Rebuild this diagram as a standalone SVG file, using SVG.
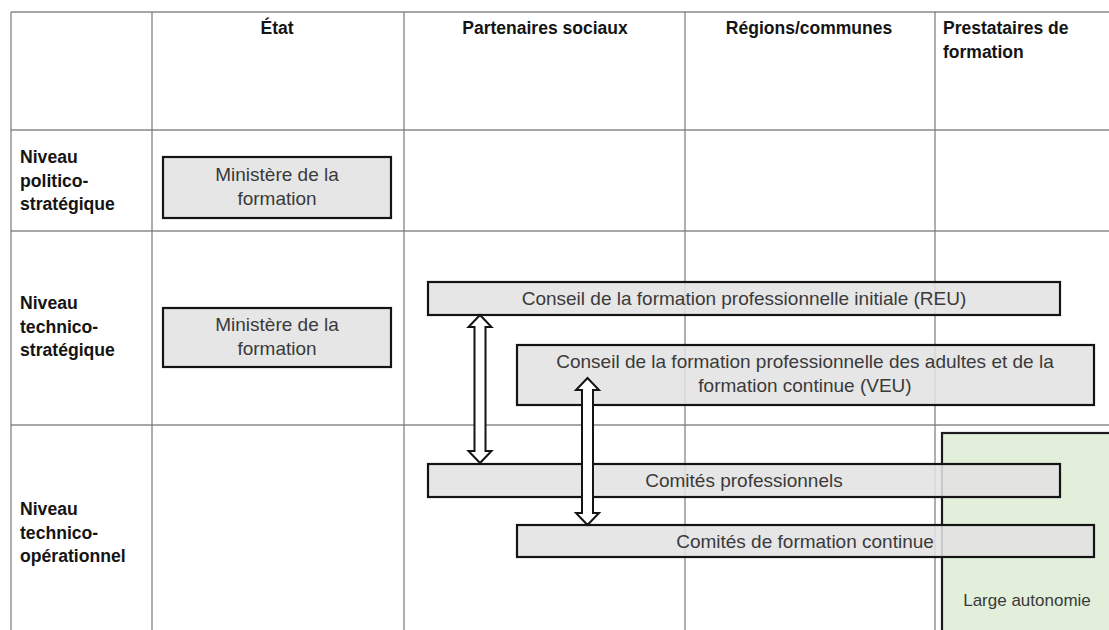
<svg xmlns="http://www.w3.org/2000/svg" width="1109" height="630" viewBox="0 0 1109 630">
  <defs>
    <style>
      .grid-h { stroke: #8a8a8a; stroke-width: 1.6; fill: none; }
      .grid-v { stroke: #7a7a7a; stroke-width: 1.2; fill: none; }
      .box { fill: #e3e3e3; fill-opacity: 0.88; stroke: #141414; stroke-width: 2.2; }
      .green { fill: #e2efda; stroke: #1c1c1c; stroke-width: 2.2; }
      .head { font-family: "Liberation Sans", Arial, sans-serif; font-weight: bold; font-size: 17.5px; fill: #141414; }
      .label { font-family: "Liberation Sans", Arial, sans-serif; font-weight: bold; font-size: 17.6px; fill: #141414; }
      .txt { font-family: "Liberation Sans", Arial, sans-serif; font-size: 19px; fill: #3a3a3a; text-anchor: middle; }
      .small { font-family: "Liberation Sans", Arial, sans-serif; font-size: 17px; fill: #3a3a3a; text-anchor: middle; }
      .arrow { fill: #ffffff; stroke: #141414; stroke-width: 2; stroke-linejoin: miter; }
    </style>
  </defs>

  <rect width="1109" height="630" fill="#ffffff"/>

  <!-- table grid -->
  <g id="grid">
    <line class="grid-h" x1="11" y1="12" x2="1109" y2="12"/>
    <line class="grid-h" x1="11" y1="130" x2="1109" y2="130"/>
    <line class="grid-h" x1="11" y1="231" x2="1109" y2="231"/>
    <line class="grid-h" x1="11" y1="425" x2="1109" y2="425"/>
    <line class="grid-v" x1="11" y1="12" x2="11" y2="630" stroke="#a8a8a8"/>
    <line class="grid-v" x1="152" y1="12" x2="152" y2="630"/>
    <line class="grid-v" x1="404" y1="12" x2="404" y2="630"/>
    <line class="grid-v" x1="685" y1="12" x2="685" y2="630"/>
    <line class="grid-v" x1="935" y1="12" x2="935" y2="630"/>
  </g>

  <!-- column headings -->
  <g id="headers">
    <text class="head" x="277" y="34" text-anchor="middle">État</text>
    <text class="head" x="545" y="34" text-anchor="middle">Partenaires sociaux</text>
    <text class="head" x="809" y="34" text-anchor="middle">Régions/communes</text>
    <text class="head" x="943" y="34">Prestataires de</text>
    <text class="head" x="943" y="58">formation</text>
  </g>

  <!-- row headings -->
  <g id="rows">
    <text class="label" x="20" y="163">Niveau</text>
    <text class="label" x="20" y="186.5">politico-</text>
    <text class="label" x="20" y="210">stratégique</text>
    <text class="label" x="20" y="309">Niveau</text>
    <text class="label" x="20" y="332.5">technico-</text>
    <text class="label" x="20" y="356">stratégique</text>
    <text class="label" x="20" y="515">Niveau</text>
    <text class="label" x="20" y="538.5">technico-</text>
    <text class="label" x="20" y="562">opérationnel</text>
  </g>

  <!-- nodes -->
  <g id="large-autonomie">
    <rect class="green" x="942" y="433" width="180" height="210"/>
    <text class="small" x="1027" y="606">Large autonomie</text>
  </g>

  <g id="ministere-politique">
    <rect class="box" x="163" y="157" width="228" height="61"/>
    <text class="txt" x="277" y="181">Ministère de la</text>
    <text class="txt" x="277" y="205">formation</text>
  </g>

  <g id="ministere-technique">
    <rect class="box" x="163" y="308" width="228" height="59"/>
    <text class="txt" x="277" y="331">Ministère de la</text>
    <text class="txt" x="277" y="355">formation</text>
  </g>

  <g id="conseil-reu">
    <rect class="box" x="428" y="282" width="632" height="33"/>
    <text class="txt" x="744" y="305">Conseil de la formation professionnelle initiale (REU)</text>
  </g>

  <g id="conseil-veu">
    <rect class="box" x="517" y="345" width="577" height="60"/>
    <text class="txt" x="805" y="368">Conseil de la formation professionnelle des adultes et de la</text>
    <text class="txt" x="805" y="392">formation continue (VEU)</text>
  </g>

  <g id="comites-professionnels">
    <rect class="box" x="428" y="464" width="632" height="33"/>
    <text class="txt" x="744" y="487">Comités professionnels</text>
  </g>

  <g id="comites-formation-continue">
    <rect class="box" x="517" y="525" width="577" height="32"/>
    <text class="txt" x="805" y="548">Comités de formation continue</text>
  </g>

  <!-- connectors: double block arrows -->
  <g id="connectors">
    <path class="arrow" d="M480,315 L491.5,327 L485.5,327 L485.5,451 L491.5,451 L480,463 L468.5,451 L474.5,451 L474.5,327 L468.5,327 Z"/>
    <path class="arrow" d="M587.5,378 L599,390 L593,390 L593,513 L599,513 L587.5,525 L576,513 L582,513 L582,390 L576,390 Z"/>
  </g>
</svg>
